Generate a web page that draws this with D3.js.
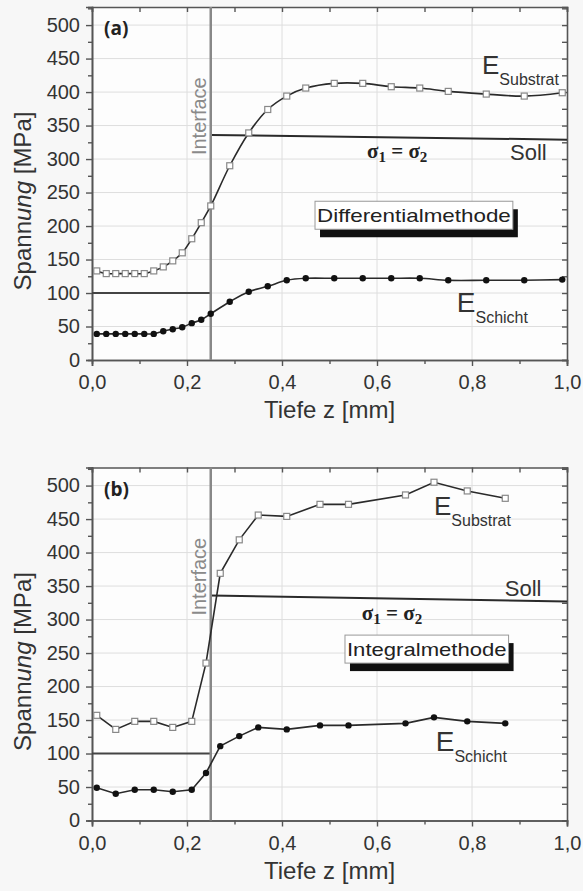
<!DOCTYPE html>
<html><head><meta charset="utf-8">
<script src="https://cdn.jsdelivr.net/npm/d3@7"></script>
<style>
html,body{margin:0;padding:0;background:#f7f7f7;}
svg{display:block;}
text{font-family:"Liberation Sans",Arial,sans-serif;}
</style></head>
<body>
<svg id="chart" width="583" height="891"></svg>
<script>
// ---------- data ----------
const xTicks = [0, 0.2, 0.4, 0.6, 0.8, 1.0];
const yTicks = [0, 50, 100, 150, 200, 250, 300, 350, 400, 450, 500];

const depthA = [0.01,0.03,0.05,0.07,0.09,0.11,0.13,0.15,0.17,0.19,0.21,0.23,0.25,0.29,0.33,0.37,0.41,0.45,0.51,0.57,0.63,0.69,0.75,0.83,0.91,0.99];
const substratA = [133,129,129,129,129,129,133,139,148,160,181,205,230,290,339,374,394,406,413,413,408,406,401,397,394,399];
const schichtA = [39,39,39,39,39,39,39,43,46,49,55,60,69,87,102,110,119,122,122,122,122,122,119,119,119,120];

const depthB = [0.01,0.05,0.09,0.13,0.17,0.21,0.24,0.27,0.31,0.35,0.41,0.48,0.54,0.66,0.72,0.79,0.87];
const substratB = [157,136,148,148,139,148,235,369,419,456,454,472,472,486,505,492,481];
const schichtB = [49,40,46,46,43,46,71,111,126,139,136,142,142,145,154,148,145];

const interfaceZ = 0.25;
const sollLowZ = [0, 0.25];
const sollLow = [100, 100];
const sollHighZ = [0.25, 1.0];
const sollHighA = [336, 329];
const sollHighB = [336, 327];

const panels = [
  {top: 7, label: "(a)", depth: depthA, sub: substratA, sch: schichtA, soll: sollHighA, method: "Differentialmethode",
   curve: d3.curveCatmullRom.alpha(0.5),
   eSub: [0.821, 427], eSch: [0.768, 72], sollTxt: [0.88, 298.5], sigma: [0.579, 301], box: [0.4695, 0.886, 237]},
  {top: 467.5, label: "(b)", depth: depthB, sub: substratB, sch: schichtB, soll: sollHighB, method: "Integralmethode",
   curve: d3.curveLinear,
   eSub: [0.72, 456], eSch: [0.7236, 104], sollTxt: [0.869, 335], sigma: [0.568, 299], box: [0.5326, 0.877, 276.8]}
];

const svg = d3.select("#chart");
const left = 92, right = 567, plotH = 353;

panels.forEach(p => {
  const g = svg.append("g");
  const x = d3.scaleLinear().domain([0, 1]).range([left, right]);
  const y = d3.scaleLinear().domain([0, 527]).range([p.top + plotH, p.top]);
  const fmt = v => d3.format(".1f")(v).replace(".", ",");

  g.append("rect").attr("x", left).attr("y", p.top).attr("width", right-left).attr("height", plotH).attr("fill", "#fdfdfd");

  // grid
  g.append("g").selectAll("line").data(xTicks.slice(1, -1)).join("line")
    .attr("x1", d => x(d)).attr("x2", d => x(d)).attr("y1", p.top).attr("y2", p.top + plotH)
    .attr("stroke", "#dedede").attr("stroke-width", 1);
  g.append("g").selectAll("line").data(yTicks.slice(1)).join("line")
    .attr("x1", left).attr("x2", right).attr("y1", d => y(d)).attr("y2", d => y(d))
    .attr("stroke", "#dedede").attr("stroke-width", 1);

  // axes
  const axColor = "#555";
  const minorY = d3.range(25, 527, 50);
  const minorX = d3.range(0.1, 1, 0.2);
  const bottom = g.append("g").attr("transform", `translate(0,${p.top+plotH})`)
    .call(d3.axisBottom(x).tickValues(xTicks).tickFormat(fmt).tickSize(6).tickPadding(5));
  g.append("g").attr("transform", `translate(0,${p.top+plotH})`)
    .call(d3.axisBottom(x).tickValues(minorX).tickFormat("").tickSize(4));
  g.append("g").attr("transform", `translate(${left},0)`)
    .call(d3.axisLeft(y).tickValues(yTicks).tickSize(6).tickPadding(6));
  g.append("g").attr("transform", `translate(${left},0)`)
    .call(d3.axisLeft(y).tickValues(minorY).tickFormat("").tickSize(4));
  g.append("g").attr("transform", `translate(0,${p.top})`)
    .call(d3.axisTop(x).tickValues(d3.range(0, 1.01, 0.1)).tickFormat("").tickSize(-5));
  g.append("g").attr("transform", `translate(${right},0)`)
    .call(d3.axisRight(y).tickValues(d3.range(0, 527, 25)).tickFormat("").tickSize(-5));
  g.selectAll(".domain").attr("stroke", axColor).attr("stroke-width", 1.6);
  g.selectAll(".tick line").attr("stroke", axColor).attr("stroke-width", 1.4);
  g.selectAll(".tick text").attr("fill", "#333").style("font-size", "20px").style("font-family", "Liberation Sans, Arial, sans-serif");
  bottom.selectAll(".tick text").attr("dy", "0.9em");

  // axis titles
  g.append("text").attr("x", (left+right)/2).attr("y", p.top + plotH + 58).attr("text-anchor", "middle")
    .attr("fill", "#333").style("font-size", "24px").text("Tiefe z [mm]");
  const yt = g.append("text").attr("transform", `translate(31,${p.top + 194}) rotate(-90)`).attr("text-anchor", "middle")
    .attr("fill", "#333").style("font-size", "24px");
  yt.append("tspan").text("Spann");
  yt.append("tspan").attr("font-style", "italic").text("ung");
  yt.append("tspan").text(" [MPa]");

  // panel label
  g.append("text").attr("x", 104).attr("y", p.top + 28).attr("fill", "#222")
    .style("font-size", "19px").style("font-weight", "bold").style("font-family", "Open Sans, sans-serif").text(p.label);

  // Soll lines
  const lineGen = d3.line().x(d => x(d[0])).y(d => y(d[1]));
  g.append("path").attr("d", lineGen(sollLowZ.map((z, i) => [z, sollLow[i]])))
    .attr("fill", "none").attr("stroke", "#444").attr("stroke-width", 2);
  g.append("path").attr("d", lineGen(sollHighZ.map((z, i) => [z, p.soll[i]])))
    .attr("fill", "none").attr("stroke", "#2a2a2a").attr("stroke-width", 2);

  // interface line
  g.append("line").attr("x1", x(interfaceZ)).attr("x2", x(interfaceZ)).attr("y1", p.top).attr("y2", p.top + plotH)
    .attr("stroke", "#888").attr("stroke-width", 2.5);
  g.append("text").attr("transform", `translate(${x(interfaceZ) - 4.5},${y(364)}) rotate(-90)`)
    .attr("text-anchor", "middle").attr("fill", "#8a8a8a").style("font-size", "20px").text("Interface");

  // data lines
  const dl = d3.line().curve(p.curve).x(d => x(d[0])).y(d => y(d[1]));
  const subPts = p.depth.map((z, i) => [z, p.sub[i]]);
  const schPts = p.depth.map((z, i) => [z, p.sch[i]]);
  g.append("path").attr("d", dl(subPts)).attr("fill", "none").attr("stroke", "#2a2a2a").attr("stroke-width", 1.6);
  g.append("path").attr("d", dl(schPts)).attr("fill", "none").attr("stroke", "#2a2a2a").attr("stroke-width", 1.6);
  g.append("g").selectAll("rect").data(subPts).join("rect")
    .attr("x", d => x(d[0]) - 3).attr("y", d => y(d[1]) - 3).attr("width", 6).attr("height", 6)
    .attr("fill", "#fff").attr("stroke", "#888").attr("stroke-width", 1.2);
  g.append("g").selectAll("circle").data(schPts).join("circle")
    .attr("cx", d => x(d[0])).attr("cy", d => y(d[1])).attr("r", 3.2).attr("fill", "#111");

  // series labels
  const eS = g.append("text").attr("x", x(p.eSub[0])).attr("y", y(p.eSub[1])).attr("fill", "#333");
  eS.append("tspan").style("font-size", "26px").text("E");
  eS.append("tspan").attr("dy", 11).style("font-size", "16px").text("Substrat");
  const eC = g.append("text").attr("x", x(p.eSch[0])).attr("y", y(p.eSch[1])).attr("fill", "#333");
  eC.append("tspan").style("font-size", "28px").text("E");
  eC.append("tspan").attr("dy", 11).style("font-size", "16px").text("Schicht");

  g.append("text").attr("x", x(p.sollTxt[0])).attr("y", y(p.sollTxt[1])).attr("fill", "#333")
    .style("font-size", "22px").text("Soll");

  const sg = g.append("text").attr("x", x(p.sigma[0])).attr("y", y(p.sigma[1])).attr("fill", "#222")
    .style("font-family", "Liberation Serif, DejaVu Serif, serif").style("font-weight", "bold").style("font-size", "21px");
  sg.append("tspan").text("σ");
  sg.append("tspan").attr("dy", 4).style("font-size", "15px").text("1");
  sg.append("tspan").attr("dy", -4).text(" = σ");
  sg.append("tspan").attr("dy", 4).style("font-size", "15px").text("2");

  // method box with shadow
  const bx0 = x(p.box[0]), bx1 = x(p.box[1]), by = y(p.box[2]);
  const bh = 28;
  g.append("rect").attr("x", bx0 + 5).attr("y", by + 8).attr("width", bx1 - bx0).attr("height", bh).attr("fill", "#111");
  g.append("rect").attr("x", bx0).attr("y", by).attr("width", bx1 - bx0).attr("height", bh)
    .attr("fill", "#fff").attr("stroke", "#999").attr("stroke-width", 1);
  g.append("text").attr("x", bx0 + 2).attr("y", by + 21).attr("fill", "#222")
    .attr("textLength", bx1 - bx0 - 4).attr("lengthAdjust", "spacingAndGlyphs")
    .style("font-size", "19px").text(p.method);
});
</script>
</body></html>
